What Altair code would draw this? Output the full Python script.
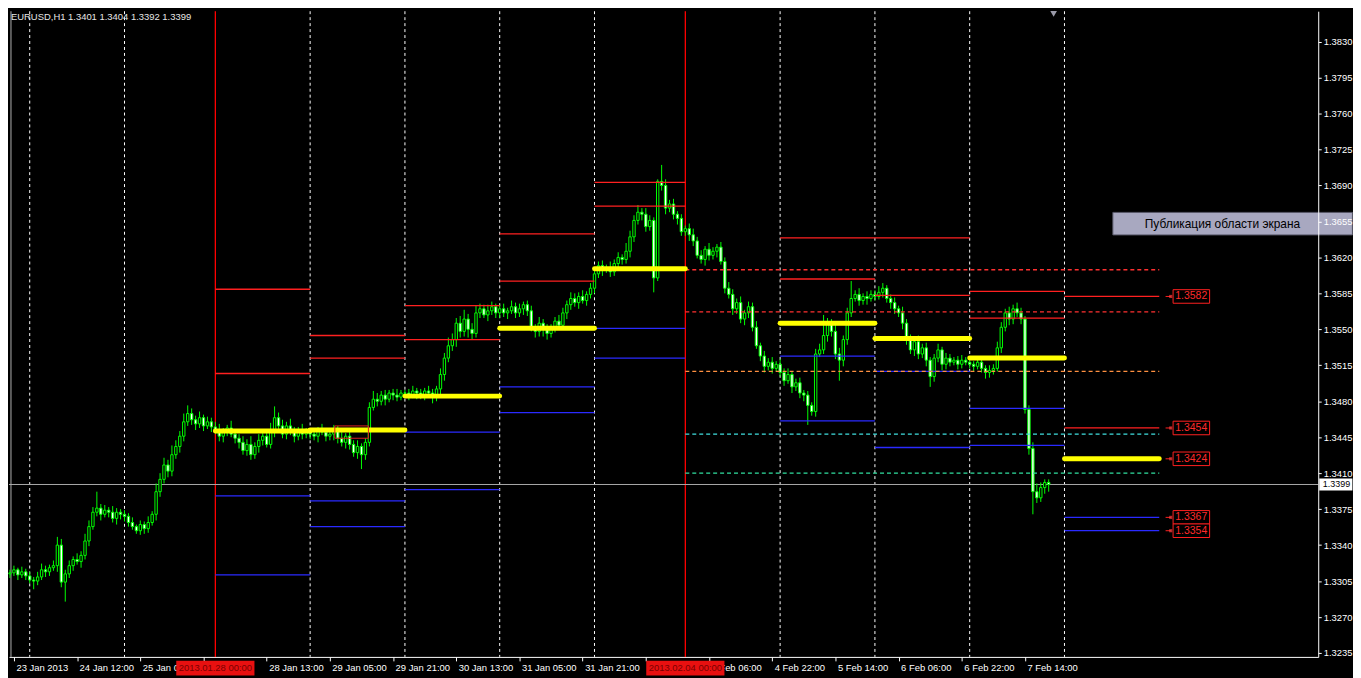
import altair as alt
import pandas as pd

BASE = 1.3000  # candle values below are pips above 1.3000

# ---------------- hourly candles, one list per trading day ----------------
first_open = 312
close_jan23 = [313, 316, 311, 314, 310]
close_jan24 = [306, 305, 309, 316, 314, 318, 320, 340, 304, 312, 320, 326, 324, 330, 344, 358, 372, 376, 370, 374, 372, 366, 372, 370]
close_jan25 = [368, 362, 358, 354, 360, 356, 362, 370, 392, 404, 418, 412, 428, 436, 446, 460, 468, 462, 458, 464, 456, 460, 455]
close_jan28 = [452, 446, 450, 454, 448, 444, 440, 432, 438, 428, 436, 442, 446, 438, 450, 464, 456, 448, 456, 450, 446, 452, 448, 450]
close_jan29 = [448, 446, 452, 450, 446, 448, 452, 444, 440, 446, 438, 430, 436, 428, 440, 474, 482, 480, 486, 482, 488, 486, 484, 488]
close_jan30 = [488, 486, 490, 488, 486, 490, 488, 484, 492, 506, 522, 534, 540, 556, 548, 560, 550, 546, 566, 570, 564, 568, 572, 566]
close_jan31 = [570, 566, 568, 572, 566, 570, 574, 568, 552, 548, 556, 550, 546, 552, 558, 554, 566, 574, 580, 576, 582, 578, 584, 590]
close_feb01 = [604, 612, 608, 610, 606, 614, 620, 618, 626, 640, 656, 664, 662, 650, 656, 600, 694, 690, 668, 672, 662, 658, 645]
close_feb04 = [648, 642, 636, 622, 618, 628, 622, 626, 630, 616, 590, 584, 570, 576, 560, 566, 572, 552, 534, 524, 514, 518, 512, 516]
close_feb05 = [508, 500, 506, 494, 498, 488, 486, 476, 470, 526, 530, 544, 556, 548, 526, 520, 540, 566, 580, 584, 578, 582, 580, 584]
close_feb06 = [582, 586, 590, 580, 576, 570, 566, 556, 540, 530, 538, 526, 532, 520, 504, 522, 530, 516, 522, 518, 520, 516, 520, 518]
close_feb07 = [516, 514, 518, 512, 508, 510, 512, 532, 552, 566, 560, 570, 566, 560, 472, 434, 392, 386, 396, 401, 399]

up_jan23 = [3, 4, 2, 5, 3]
up_jan24 = [4, 3, 5, 6, 4, 3, 5, 8, 6, 4, 5, 3, 6, 4, 7, 6, 5, 16, 4, 5, 3, 6, 4, 3]
up_jan25 = [4, 3, 5, 2, 4, 3, 6, 3, 8, 6, 7, 5, 9, 6, 5, 8, 8, 5, 4, 6, 3, 5, 4]
up_jan28 = [5, 6, 4, 3, 7, 5, 4, 6, 5, 8, 4, 6, 5, 7, 9, 11, 5, 6, 4, 7, 5, 3, 6, 4]
up_jan29 = [4, 5, 3, 6, 4, 3, 5, 4, 6, 3, 5, 4, 6, 3, 4, 5, 8, 6, 4, 5, 3, 4, 6, 3]
up_jan30 = [3, 4, 5, 3, 4, 3, 5, 4, 3, 6, 5, 8, 6, 5, 7, 9, 5, 6, 7, 5, 4, 6, 5, 3]
up_jan31 = [4, 5, 3, 6, 4, 5, 3, 4, 5, 3, 6, 4, 5, 3, 4, 6, 5, 4, 6, 5, 4, 6, 3, 5]
up_feb01 = [6, 4, 5, 3, 6, 4, 5, 3, 8, 6, 5, 7, 4, 6, 5, 3, 2, 16, 6, 4, 5, 3, 4]
up_feb04 = [3, 5, 6, 4, 5, 3, 6, 4, 3, 5, 4, 6, 5, 4, 6, 3, 5, 4, 6, 3, 5, 4, 5, 3]
up_feb05 = [5, 4, 6, 3, 4, 5, 3, 4, 3, 5, 6, 20, 5, 4, 8, 6, 4, 5, 17, 4, 6, 3, 5, 4]
up_feb06 = [4, 6, 5, 3, 4, 5, 3, 6, 4, 5, 3, 6, 4, 5, 3, 4, 6, 3, 5, 4, 3, 4, 5, 3]
up_feb07 = [4, 3, 5, 4, 3, 5, 4, 6, 5, 4, 6, 4, 6, 5, 3, 4, 6, 8, 5, 3, 3]

dn_jan23 = [4, 3, 5, 3, 4]
dn_jan24 = [3, 8, 4, 3, 5, 4, 3, 6, 5, 19, 4, 5, 3, 6, 4, 5, 3, 4, 6, 3, 5, 4, 6, 5]
dn_jan25 = [5, 4, 3, 3, 4, 5, 4, 3, 6, 5, 4, 6, 5, 4, 6, 5, 4, 5, 6, 4, 5, 3, 5]
dn_jan28 = [4, 5, 6, 4, 3, 5, 6, 4, 5, 5, 4, 6, 5, 3, 4, 5, 6, 4, 5, 3, 6, 4, 5, 4]
dn_jan29 = [5, 4, 6, 3, 5, 4, 6, 5, 4, 6, 5, 4, 6, 14, 5, 4, 3, 5, 4, 6, 3, 5, 4, 3]
dn_jan30 = [4, 5, 3, 6, 4, 5, 3, 6, 4, 5, 6, 4, 5, 7, 6, 5, 8, 6, 4, 5, 3, 6, 4, 5]
dn_jan31 = [5, 4, 6, 3, 5, 4, 6, 5, 4, 6, 5, 7, 6, 4, 5, 3, 4, 6, 5, 4, 6, 3, 5, 4]
dn_feb01 = [5, 4, 6, 3, 5, 4, 6, 5, 4, 6, 5, 4, 6, 5, 4, 14, 3, 5, 6, 4, 5, 6, 4]
dn_feb04 = [4, 6, 5, 3, 4, 6, 5, 4, 6, 3, 5, 4, 6, 5, 4, 6, 5, 4, 3, 5, 6, 4, 5, 3]
dn_feb05 = [4, 5, 3, 6, 4, 5, 6, 19, 4, 5, 3, 4, 6, 5, 5, 20, 6, 5, 4, 3, 5, 4, 6, 3]
dn_feb06 = [4, 3, 5, 4, 6, 5, 4, 6, 5, 4, 6, 5, 4, 6, 10, 5, 4, 6, 5, 4, 3, 5, 4, 3]
dn_feb07 = [4, 5, 3, 4, 6, 5, 4, 3, 5, 4, 6, 5, 4, 5, 4, 6, 22, 5, 4, 6, 7]

closes = (close_jan23 + close_jan24 + close_jan25 + close_jan28 + close_jan29 + close_jan30
          + close_jan31 + close_feb01 + close_feb04 + close_feb05 + close_feb06 + close_feb07)
ups = (up_jan23 + up_jan24 + up_jan25 + up_jan28 + up_jan29 + up_jan30
       + up_jan31 + up_feb01 + up_feb04 + up_feb05 + up_feb06 + up_feb07)
dns = (dn_jan23 + dn_jan24 + dn_jan25 + dn_jan28 + dn_jan29 + dn_jan30
       + dn_jan31 + dn_feb01 + dn_feb04 + dn_feb05 + dn_feb06 + dn_feb07)

# ---------------- day separators (bar index) ----------------
day_sep_k = [5, 29, 76, 100, 124, 148, 195, 219, 243, 267]
week_start_k = [52, 171]
week_start_text = ["2013.01.28 00:00", "2013.02.04 00:00"]

# ---------------- daily pivot levels ----------------
level_start = [52, 76, 100, 124, 148, 195, 219, 243, 267]
level_end = [76, 100, 124, 148, 171, 219, 243, 267, 291]
pivot = [1.3451, 1.3452, 1.3485, 1.3551, 1.3609, 1.3556, 1.3541, 1.3522, 1.3424]
res1 = [1.3507, 1.3522, 1.3540, 1.3597, 1.3670, 1.3599, 1.3583, 1.3561, 1.3454]
res2 = [1.3589, 1.3544, 1.3573, 1.3643, 1.3693, 1.3639, 1.3639, 1.3587, 1.3582]
sup1 = [1.3388, 1.3383, 1.3450, 1.3494, 1.3551, 1.3524, 1.3509, 1.3473, 1.3367]
sup2 = [1.3311, 1.3358, 1.3394, 1.3469, 1.3522, 1.3461, 1.3435, 1.3437, 1.3354]

# weekly levels (dashed), from Feb 4
weekly_levels = [1.3608, 1.3567, 1.3509, 1.3448, 1.3410]
weekly_colors = ["#ff3030", "#ff3030", "#ff9040", "#40e0e0", "#30e0a0"]
weekly_start, weekly_end = 171, 291

right_labels = [1.3582, 1.3454, 1.3424, 1.3367, 1.3354]
current_price = 1.3399

# time-axis ticks every 16 bars; labels hidden under the red week-start tags are blank
xtick_k = [1, 17, 33, 49, 65, 81, 97, 113, 129, 145, 161, 177, 193, 209, 225, 241, 257]
xtick_text = ["23 Jan 2013", "24 Jan 12:00", "25 Jan 04:00", "", "28 Jan 13:00",
              "29 Jan 05:00", "29 Jan 21:00", "30 Jan 13:00", "31 Jan 05:00", "31 Jan 21:00",
              "", "4 Feb 06:00", "4 Feb 22:00", "5 Feb 14:00", "6 Feb 06:00",
              "6 Feb 22:00", "7 Feb 14:00"]
ytick_values = [1.3235, 1.3270, 1.3305, 1.3340, 1.3375, 1.3410, 1.3445, 1.3480, 1.3515,
                1.3550, 1.3585, 1.3620, 1.3655, 1.3690, 1.3725, 1.3760, 1.3795, 1.3830]

title_text = "EURUSD,H1  1.3401 1.3404 1.3392 1.3399"
popup_text = "Публикация области экрана"

# ---------------- build tables ----------------
rows = []
prev = first_open
for k, (c, u, d) in enumerate(zip(closes, ups, dns)):
    o = prev
    rows.append({
        "k": k, "x0": k - 0.3, "x1": k + 0.3,
        "open": BASE + o / 1e4, "close": BASE + c / 1e4,
        "high": BASE + (max(o, c) + u) / 1e4, "low": BASE + (min(o, c) - d) / 1e4,
        "fill": "#000000" if c >= o else "#ffffff",
    })
    prev = c
candles = pd.DataFrame(rows)

RED, BLUE = "#ff2020", "#2a2aff"
thin_rows = []
for i in range(len(level_start)):
    for vals, col in ((res1, RED), (res2, RED), (sup1, BLUE), (sup2, BLUE)):
        thin_rows.append({"x0": level_start[i], "x1": level_end[i], "p": vals[i], "color": col})
thin = pd.DataFrame(thin_rows)
yellow = pd.DataFrame({"x0": level_start, "x1": level_end, "p": pivot})
weekly = pd.DataFrame({"x0": [weekly_start] * len(weekly_levels), "x1": [weekly_end] * len(weekly_levels),
                       "p": weekly_levels, "color": weekly_colors})

W, H = 1318, 650
xs = alt.Scale(domain=[-0.25, 331.25], nice=False, zero=False)
ys = alt.Scale(domain=[1.32312, 1.38596], nice=False, zero=False)
FONT = "Liberation Sans"

label_expr = "[" + ",".join("'%s'" % t for t in xtick_text) + "][round((datum.value - 1) / 16)]"
x_axis = alt.Axis(values=xtick_k, labelExpr=label_expr, orient="bottom", labelAlign="left",
                  labelOffset=2, labelPadding=2, tickSize=4, tickColor="#ffffff",
                  domainColor="#ffffff", labelColor="#ffffff", labelFont=FONT, labelFontSize=9.5,
                  labelBaseline="top", labelOverlap=False, labelFlush=False, labelBound=False,
                  grid=False, title=None)
y_axis = alt.Axis(values=ytick_values, format=".4f", orient="right", tickSize=3, tickColor="#ffffff",
                  domainColor="#ffffff", labelColor="#ffffff", labelFont=FONT, labelFontSize=9.5,
                  labelPadding=2, labelOverlap=False, labelFlush=False, labelBound=False,
                  grid=False, title=None, zindex=1)


def X(f):
    return alt.X(f, type="quantitative", scale=xs, axis=x_axis)


def Y(f):
    return alt.Y(f, type="quantitative", scale=ys, axis=y_axis)


sep = alt.Chart(pd.DataFrame({"k": day_sep_k})).mark_rule(
    color="#ffffff", strokeWidth=1, strokeDash=[3, 3]).encode(x=X("k"))

weeklines = alt.Chart(pd.DataFrame({"k": week_start_k})).mark_rule(
    color="#ff0000", strokeWidth=1.3).encode(x=X("k"))

price_line = alt.Chart(pd.DataFrame({"p": [current_price]})).mark_rule(
    color="#a8a8a8", strokeWidth=1).encode(y=Y("p"))

frame = alt.Chart(pd.DataFrame({"a": [0]})).mark_rule(color="#b0b0b0", strokeWidth=1).encode(
    x=alt.value(2), y=alt.value(0), y2=alt.value(H))

wicks = alt.Chart(candles).mark_rule(color="#00ff00", strokeWidth=1).encode(
    x=X("k"), y=Y("low"), y2="high")
bodies = alt.Chart(candles).mark_rect(stroke="#00ff00", strokeWidth=1).encode(
    x=X("x0"), x2="x1", y=Y("open"), y2="close", fill=alt.Fill("fill:N", scale=None))

thin_layer = alt.Chart(thin).mark_rule(strokeWidth=1.3).encode(
    x=X("x0"), x2="x1", y=Y("p"), color=alt.Color("color:N", scale=None))
weekly_layer = alt.Chart(weekly).mark_rule(strokeWidth=1.3, strokeDash=[4, 3]).encode(
    x=X("x0"), x2="x1", y=Y("p"), color=alt.Color("color:N", scale=None))
yellow_layer = alt.Chart(yellow).mark_rule(strokeWidth=5, color="#ffff00", strokeCap="round").encode(
    x=X("x0"), x2="x1", y=Y("p"))

# small red object box on Jan 29
obj_box = alt.Chart(pd.DataFrame({"a": [82.25], "b": [90.75], "p1": [1.3456], "p2": [1.3444]})).mark_rect(
    fill=None, stroke="#e02020", strokeWidth=1).encode(x=X("a"), x2="b", y=Y("p1"), y2="p2")

# right price labels
rl = pd.DataFrame({"p": right_labels, "t": ["%.4f" % v for v in right_labels]})
rl["a"] = 294.5
rl["b"] = 303.75
rl["c"] = 299.1
rl["m"] = 293.9
rl["m0"] = 292.6
rl["hi"] = rl["p"] + 0.00066
rl["lo"] = rl["p"] - 0.00066
rl_line = alt.Chart(rl).mark_rule(color=RED).encode(x=X("m0"), x2="m", y=Y("p"))
rl_mark = alt.Chart(rl).mark_point(shape="square", size=10, filled=True, color="#ff4040").encode(
    x=X("m"), y=Y("p"))
rl_box = alt.Chart(rl).mark_rect(fill="#000000", stroke=RED, strokeWidth=1).encode(
    x=X("a"), x2="b", y=Y("lo"), y2="hi")
rl_text = alt.Chart(rl).mark_text(color="#ff2a2a", font=FONT, fontSize=10.5, align="center",
                                  baseline="middle").encode(x=X("c"), y=Y("p"), text="t:N")

# current price tag on the axis
cp = pd.DataFrame({"p": [current_price], "t": ["%.4f" % current_price], "a": [331.5], "b": [339.9],
                   "c": [332.4], "hi": [current_price + 0.00058], "lo": [current_price - 0.00058]})
cp_box = alt.Chart(cp).mark_rect(fill="#ffffff").encode(x=X("a"), x2="b", y=Y("lo"), y2="hi")
cp_text = alt.Chart(cp).mark_text(color="#000000", font=FONT, fontSize=9, align="left",
                                  baseline="middle").encode(x=X("c"), y=Y("p"), text="t:N")

# week-start labels on the time axis
wl = pd.DataFrame({"k": week_start_k, "t": week_start_text})
wl["a"] = wl["k"] - 9.9
wl["b"] = wl["k"] + 9.9
wl["top"] = 1.32274
wl["bot"] = 1.32131
wl["mid"] = 1.32200
wl_box = alt.Chart(wl).mark_rect(fill="#e81010").encode(x=X("a"), x2="b", y=Y("top"), y2="bot")
wl_text = alt.Chart(wl).mark_text(color="#7a0000", font=FONT, fontSize=9.5, align="center",
                                  baseline="middle").encode(x=X("k"), y=Y("mid"), text="t:N")

# screen-capture popup
pp = pd.DataFrame({"a": [279.25], "b": [339.9], "top": [1.36638], "bot": [1.36419],
                   "c": [307.0], "mid": [1.36528], "t": [popup_text]})
pp_box = alt.Chart(pp).mark_rect(fill="#a8a8c0", stroke="#5a5a6a", strokeWidth=1).encode(
    x=X("a"), x2="b", y=Y("top"), y2="bot")
pp_text = alt.Chart(pp).mark_text(color="#000000", font=FONT, fontSize=12, align="center",
                                  baseline="middle").encode(x=X("c"), y=Y("mid"), text="t:N")

# shift marker at top
shift = alt.Chart(pd.DataFrame({"k": [264.25], "p": [1.3857]})).mark_point(
    shape="triangle-down", size=45, filled=True, color="#9a9aa8", opacity=1).encode(x=X("k"), y=Y("p"))

title = alt.Chart(pd.DataFrame({"t": [title_text]})).mark_text(
    color="#e6e6e6", font=FONT, fontSize=9.5, align="left", baseline="middle").encode(
    x=alt.value(2), y=alt.value(6), text="t:N")

chart = alt.layer(
    sep, weeklines, price_line, frame,
    wicks, bodies,
    thin_layer, weekly_layer, yellow_layer, obj_box,
    rl_line, rl_mark, rl_box, rl_text,
    cp_box, cp_text, wl_box, wl_text,
    pp_box, pp_text, shift, title,
).properties(width=W, height=H, padding=0, background="#000000").configure_view(
    stroke=None, fill="#000000")

chart.save("out.html", embed_options={"renderer": "svg", "actions": False})
